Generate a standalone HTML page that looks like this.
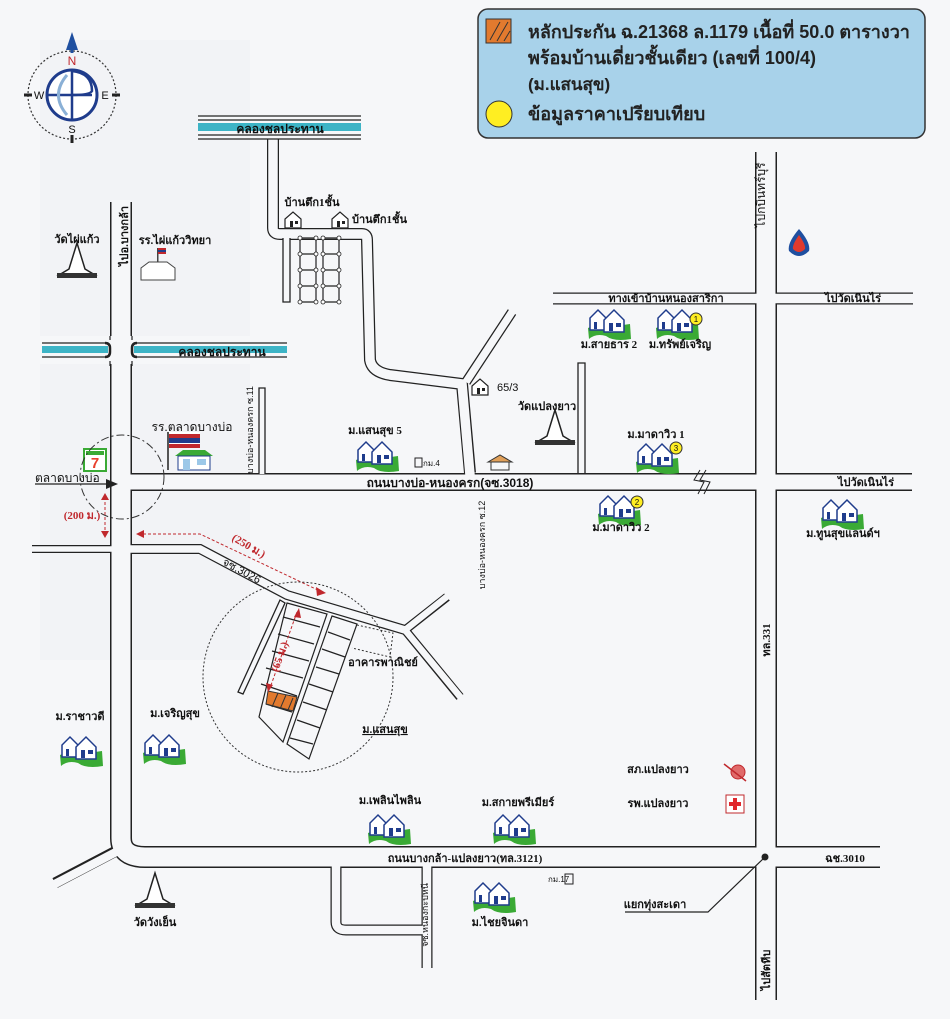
<!DOCTYPE html>
<html><head><meta charset="utf-8"><style>
html,body{margin:0;padding:0;background:#f6f7f9;}
svg{display:block;}
text{font-family:"Liberation Sans","DejaVu Sans",sans-serif;fill:#111;}
.s{font-size:11px;font-weight:bold;font-family:"Liberation Serif","DejaVu Serif",serif;}
.m{font-size:12px;}
.r{fill:#c0282d;font-size:11px;font-weight:bold;font-family:"Liberation Serif",serif;}
</style></head><body>
<svg width="950" height="1019" viewBox="0 0 950 1019" xmlns="http://www.w3.org/2000/svg">
<defs>
<g id="v">
<path d="M-22,8 Q-8,2 6,6 L20,4 L21,19 Q4,22 -4,16 Q-14,13 -21,19 Z" fill="#3aaa35"/>
<path d="M-20,10 L-20,-2 L-12,-10 L-4,-2 L-4,10 Z" fill="#fff" stroke="#1f3c8c" stroke-width="1.5"/>
<path d="M-6,12 L-6,0 L4,-10 L14,0 L14,12 Z" fill="#fff" stroke="#1f3c8c" stroke-width="1.5"/>
<rect x="-16" y="2" width="3" height="7" fill="#1f3c8c"/><rect x="-1" y="3" width="4" height="8" fill="#1f3c8c"/><rect x="6" y="3" width="5" height="4" fill="#1f3c8c"/>
</g>
<g id="stupa">
<path d="M0,-22 L-8,4 L-18,10 L18,10 L8,4 Z" fill="#fff" stroke="#222" stroke-width="1.5"/>
<rect x="-20" y="8" width="40" height="5" fill="#333"/>
</g>
<g id="h">
<path d="M-8,8 L-8,-1 L0,-8 L8,-1 L8,8 Z" fill="#fff" stroke="#222" stroke-width="1.2"/>
<rect x="-3" y="1" width="3" height="6" fill="#222"/><rect x="2" y="1" width="3" height="3" fill="#222"/>
</g>
</defs>

<!-- faint background patches -->
<rect x="40" y="40" width="210" height="620" fill="#eef0f3" opacity="0.5"/>

<!-- ROADS black layer -->
<g fill="none" stroke="#222" stroke-linejoin="miter">
<path d="M121,202 V838 Q121,857 145,857 H880" stroke-width="22"/>
<path d="M118,850 L55,883" stroke-width="11"/>
<path d="M273,139 V228 Q273,234 280,234 H362 Q367,234 367,240 L370,360 Q372,372 390,375 L462,384 L470,473" stroke-width="12"/>
<path d="M466,382 L512,312" stroke-width="10"/>
<path d="M132,482 H912" stroke-width="18"/>
<path d="M766,152 V1000" stroke-width="22"/>
<path d="M553,298.5 H913" stroke-width="12"/>
<path d="M32,549 H112" stroke-width="8"/>
<path d="M130,549 H200 L287,595 L405,630" stroke-width="10"/>
<path d="M405,630 L447,597 M405,630 L460,697" stroke-width="9"/>
<path d="M336,866 V922 Q336,930 346,930 H427" stroke-width="11"/>
<path d="M427,866 V968" stroke-width="11"/>
</g>
<g fill="none" stroke="#f6f7f9" stroke-linejoin="miter">
<path d="M121,200 V838 Q121,857 145,857 H882" stroke-width="19"/>
<path d="M116,852 L53,885" stroke-width="8.5"/>
<path d="M273,137 V228 Q273,234 280,234 H362 Q367,234 367,240 L370,360 Q372,372 390,375 L462,384 L470,475" stroke-width="9.5"/>
<path d="M466,382 L514,309" stroke-width="7.5"/>
<path d="M130,482 H914" stroke-width="15"/>
<path d="M766,150 V1002" stroke-width="19"/>
<path d="M551,298.5 H915" stroke-width="9.5"/>
<path d="M30,549 H114" stroke-width="5.5"/>
<path d="M128,549 H200 L287,595 L405,630" stroke-width="7.5"/>
<path d="M405,630 L449,595 M405,630 L462,699" stroke-width="6.5"/>
<path d="M336,864 V922 Q336,930 346,930 H427" stroke-width="8.5"/>
<path d="M427,864 V970" stroke-width="8.5"/>
</g>
<!-- dead-end small roads -->
<path d="M283,238 V302 H290 V238" fill="#f6f7f9" stroke="#222" stroke-width="1.3"/>
<path d="M259,474 V388 H265 V474" fill="#f6f7f9" stroke="#222" stroke-width="1.3"/>
<path d="M578,473 V363 H585 V473" fill="#f6f7f9" stroke="#222" stroke-width="1.3"/>
<path d="M280,600 L238,692 L243,694 L285,603 Z" fill="#f6f7f9" stroke="#222" stroke-width="1.3"/>
<!-- break symbol -->
<path d="M700,470 L694,480 L704,482 L698,494 M706,470 L700,480 L710,482 L704,494" fill="none" stroke="#222" stroke-width="1"/>

<!-- lot grid top -->
<g stroke="#222" stroke-width="1.2" fill="none">
<path d="M300,238 V302 M316,238 V302 M323,238 V302 M339,238 V302"/>
<path d="M300,238 H316 M300,254 H316 M300,270 H316 M300,286 H316 M300,302 H316 M323,238 H339 M323,254 H339 M323,270 H339 M323,286 H339 M323,302 H339"/>
</g>
<g fill="#fff" stroke="#222" stroke-width="0.8">
<circle cx="300" cy="238" r="2"/><circle cx="316" cy="238" r="2"/><circle cx="323" cy="238" r="2"/><circle cx="339" cy="238" r="2"/>
<circle cx="300" cy="254" r="2"/><circle cx="316" cy="254" r="2"/><circle cx="323" cy="254" r="2"/><circle cx="339" cy="254" r="2"/>
<circle cx="300" cy="270" r="2"/><circle cx="316" cy="270" r="2"/><circle cx="323" cy="270" r="2"/><circle cx="339" cy="270" r="2"/>
<circle cx="300" cy="286" r="2"/><circle cx="316" cy="286" r="2"/><circle cx="323" cy="286" r="2"/><circle cx="339" cy="286" r="2"/>
<circle cx="300" cy="302" r="2"/><circle cx="316" cy="302" r="2"/><circle cx="323" cy="302" r="2"/><circle cx="339" cy="302" r="2"/>
</g>

<!-- canals -->
<g>
<rect x="198" y="115" width="163" height="24" fill="#f6f7f9"/>
<path d="M198,116 H361 M198,120 H361 M198,135 H361 M198,139 H361" stroke="#222" stroke-width="1.2"/>
<rect x="198" y="123" width="163" height="8" fill="#3db4c6"/>
<text x="280" y="133" class="m" text-anchor="middle" font-weight="bold" font-size="13">คลองชลประทาน</text>
<rect x="40" y="336" width="250" height="28" fill="#f6f7f9"/>
<path d="M42,343 H108 M42,357 H108 M134,343 H287 M134,357 H287" stroke="#222" stroke-width="1.2"/>
<rect x="42" y="346" width="66" height="7" fill="#3db4c6"/>
<rect x="134" y="346" width="153" height="7" fill="#3db4c6"/>
<path d="M105,343 Q110,343 110,348 V352 Q110,357 105,357 M137,343 Q132,343 132,348 V352 Q132,357 137,357" fill="none" stroke="#222" stroke-width="2.5"/>
<path d="M110,336 V340 M132,336 V340 M110,361 V366 M132,361 V366" stroke="#222" stroke-width="1.2"/>
<text x="222" y="356" class="m" text-anchor="middle" font-weight="bold" font-size="13">คลองชลประทาน</text>
</g>

<!-- compass -->
<g transform="translate(72,95)">
<circle r="44" fill="none" stroke="#333" stroke-width="1.2" stroke-dasharray="2,2"/>
<circle r="25" fill="#fff" stroke="#1f3c8c" stroke-width="3"/>
<path d="M0,-25 V25 M-25,0 H20" stroke="#1f3c8c" stroke-width="2.5" fill="none"/>
<path d="M0,-24 Q20,-22 20,-4 Q18,0 0,0" fill="none" stroke="#1f3c8c" stroke-width="2.5"/>
<path d="M-5,-20 Q-22,0 -5,20" fill="none" stroke="#8ab0d6" stroke-width="3"/>
<path d="M0,-63 L-6,-45 L6,-45 Z" fill="#1f4fa0"/><rect x="-1.5" y="-50" width="3" height="8" fill="#1f4fa0"/>
<path d="M-48,0 H-40 M40,0 H48 M0,40 V48" stroke="#222" stroke-width="3"/>
<text x="0" y="-30" text-anchor="middle" font-size="12" style="fill:#c0282d" font-family="Liberation Serif">N</text>
<text x="-33" y="4" text-anchor="middle" font-size="11" font-family="Liberation Serif">W</text>
<text x="33" y="4" text-anchor="middle" font-size="11" font-family="Liberation Serif">E</text>
<text x="0" y="38" text-anchor="middle" font-size="11" font-family="Liberation Serif">S</text>
</g>

<!-- legend -->
<rect x="478" y="9" width="447" height="129" rx="10" fill="#a8d2ea" stroke="#333" stroke-width="1.5"/>
<rect x="486" y="19" width="25" height="24" fill="#e27a2e" stroke="#333"/>
<path d="M490,40 L500,22 M497,41 L508,22 M504,41 L510,31" stroke="#333"/>
<text x="528" y="38" font-size="18" font-weight="bold" style="fill:#222">หลักประกัน ฉ.21368 ล.1179 เนื้อที่ 50.0 ตารางวา</text>
<text x="528" y="64" font-size="18" font-weight="bold" style="fill:#222">พร้อมบ้านเดี่ยวชั้นเดียว (เลขที่ 100/4)</text>
<text x="528" y="90" font-size="17" font-weight="bold" style="fill:#222">(ม.แสนสุข)</text>
<circle cx="499" cy="114" r="13" fill="#ffee22" stroke="#333"/>
<text x="528" y="120" font-size="18" font-weight="bold" style="fill:#222">ข้อมูลราคาเปรียบเทียบ</text>

<!-- left top labels -->
<text x="77" y="243" class="s" text-anchor="middle" font-size="12">วัดไผ่แก้ว</text>
<use href="#stupa" x="77" y="265"/>
<text transform="translate(128,236) rotate(-90)" class="s" text-anchor="middle" font-size="12">ไปอ.บางกล้า</text>
<text x="175" y="244" class="s" text-anchor="middle">รร.ไผ่แก้ววิทยา</text>
<g transform="translate(158,268)"><path d="M-17,12 V0 L-9,-6 H9 L17,0 V12 Z" fill="#fff" stroke="#444"/><rect x="-1" y="-20" width="1.5" height="14" fill="#444"/><rect x="0" y="-20" width="8" height="6" fill="#c0282d"/><rect x="0" y="-18" width="8" height="2" fill="#1f3c8c"/></g>
<text x="312" y="206" class="s" text-anchor="middle">บ้านตึก1ชั้น</text>
<use href="#h" x="293" y="220"/><use href="#h" x="340" y="220"/>
<text x="352" y="223" class="s">บ้านตึก1ชั้น</text>

<!-- middle -->
<use href="#h" x="480" y="387"/>
<text x="497" y="391" font-size="11">65/3</text>
<text x="547" y="410" class="s" text-anchor="middle">วัดแปลงยาว</text>
<use href="#stupa" x="555" y="432"/>
<text x="375" y="434" class="s" text-anchor="middle">ม.แสนสุข 5</text>
<use href="#v" x="378" y="452"/>
<rect x="415" y="458" width="7" height="9" fill="none" stroke="#222"/><text x="423" y="466" font-size="8">กม.4</text>
<g transform="translate(500,463)"><path d="M-12,-1 L0,-8 L12,-1 Z" fill="#e0a05a" stroke="#333"/><rect x="-9" y="-1" width="18" height="8" fill="none" stroke="#333"/></g>
<text transform="translate(253,430) rotate(-90)" font-size="9" text-anchor="middle">บางบ่อ-หนองครก ซ.11</text>
<text x="192" y="431" class="m" text-anchor="middle">รร.ตลาดบางบ่อ</text>
<g transform="translate(195,458)"><rect x="-28" y="-26" width="2" height="38" fill="#555"/><path d="M-26,-26 H5 V-10 H-26 Z" fill="#fff"/><rect x="-26" y="-24" width="31" height="4" fill="#c0282d"/><rect x="-26" y="-20" width="31" height="5" fill="#1f3c8c"/><rect x="-26" y="-14" width="31" height="4" fill="#c0282d"/><path d="M-20,-2 L-12,-8 H10 L18,-2 Z" fill="#3aaa35"/><rect x="-17" y="-2" width="32" height="14" fill="#fff" stroke="#1f3c8c"/><rect x="-12" y="1" width="7" height="11" fill="#9cc8e8"/><rect x="2" y="1" width="9" height="6" fill="#9cc8e8"/></g>
<g transform="translate(95,460)"><rect x="-11" y="-11" width="22" height="22" fill="#fff" stroke="#3aaa35" stroke-width="2"/><rect x="-9" y="-9" width="18" height="4" fill="#3aaa35"/><text x="0" y="8" text-anchor="middle" font-size="15" font-weight="bold" style="fill:#e8402e">7</text></g>
<text x="35" y="482" font-size="12">ตลาดบางบ่อ</text>
<path d="M35,484 H108" stroke="#222" stroke-width="1.2"/><path d="M106,479 L118,484 L106,489 Z" fill="#222"/>
<circle cx="122" cy="477" r="42" fill="none" stroke="#333" stroke-dasharray="8,3,2,3"/>
<path d="M105,497 V534" stroke="#c0282d" stroke-dasharray="3,2"/><path d="M101,500 L105,493 L109,500 Z M101,531 L105,538 L109,531 Z" fill="#c0282d"/>
<text x="82" y="519" class="r" text-anchor="middle">(200 ม.)</text>
<text x="450" y="487" class="m" text-anchor="middle" font-weight="bold">ถนนบางบ่อ-หนองครก(จซ.3018)</text>
<text transform="translate(485,545) rotate(-90)" font-size="9" text-anchor="middle">บางบ่อ-หนองครก ซ.12</text>

<!-- right top -->
<text transform="translate(765,195) rotate(-90)" class="m" text-anchor="middle" font-size="13">ไปกบินทร์บุรี</text>
<g transform="translate(799,243)"><path d="M0,-14 Q-12,0 -10,8 Q0,18 10,8 Q12,0 0,-14 Z" fill="#1f4fa0"/><path d="M0,-8 Q-7,2 -6,6 Q0,12 6,6 Q7,2 0,-8 Z" fill="#e03a2e"/></g>
<text x="666" y="302" class="s" text-anchor="middle" font-size="10">ทางเข้าบ้านหนองสาริกา</text>
<text x="853" y="302" class="s" text-anchor="middle">ไปวัดเนินไร่</text>
<text x="866" y="486" class="s" text-anchor="middle">ไปวัดเนินไร่</text>
<use href="#v" x="610" y="320"/><text x="609" y="348" class="s" text-anchor="middle">ม.สายธาร 2</text>
<use href="#v" x="678" y="320"/><circle cx="696" cy="319" r="6" fill="#ffee22" stroke="#333"/><text x="696" y="322" font-size="8" text-anchor="middle">1</text>
<text x="680" y="348" class="s" text-anchor="middle">ม.ทรัพย์เจริญ</text>
<text x="656" y="438" class="s" text-anchor="middle">ม.มาดาวิว 1</text>
<use href="#v" x="658" y="454"/><circle cx="676" cy="448" r="6" fill="#ffee22" stroke="#333"/><text x="676" y="451" font-size="8" text-anchor="middle">3</text>
<use href="#v" x="620" y="506"/><circle cx="637" cy="502" r="6" fill="#ffee22" stroke="#333"/><text x="637" y="505" font-size="8" text-anchor="middle">2</text>
<text x="621" y="531" class="s" text-anchor="middle">ม.มาดาวิว 2</text>
<use href="#v" x="843" y="510"/><text x="843" y="537" class="s" text-anchor="middle">ม.ทูนสุขแลนด์ฯ</text>

<!-- lower-left cluster -->
<path d="M138,534 H200 L322,592" fill="none" stroke="#c0282d" stroke-dasharray="3,2"/>
<path d="M144,530 L136,534 L144,538 Z M316,587 L326,593 L317,596 Z" fill="#c0282d"/>
<text transform="translate(247,549) rotate(30)" class="r" text-anchor="middle">(250 ม.)</text>
<text transform="translate(240,574) rotate(28)" font-size="11" text-anchor="middle">จซ.3026</text>
<circle cx="298" cy="677" r="95" fill="none" stroke="#333" stroke-dasharray="2,2"/>
<g fill="none" stroke="#222" stroke-width="1.2">
<path d="M287,603 L327,614 L283,742 L259,717 Z"/>
<path d="M332,616 L357,624 L309,759 L287,744 Z"/>
<path d="M283,617 L320,627 M278,634 L314,644 M272,651 L309,661 M266,668 L303,678 M261,684 L297,696 M266,704 L292,712"/>
<path d="M328,632 L350,640 M322,649 L345,657 M316,667 L339,674 M309,684 L333,692 M303,702 L327,710 M297,720 L320,728 M290,738 L313,744"/>
</g>
<path d="M357,625 L393,633 L390,657 L352,648" fill="none" stroke="#333" stroke-dasharray="2,2"/>
<path d="M268,691 L297,697 L293,711 L266,704 Z" fill="#e27a2e" stroke="#333"/>
<path d="M272,707 L278,693 M280,709 L286,695 M288,710 L293,698" stroke="#333"/>
<path d="M297,612 L270,688" stroke="#c0282d" stroke-dasharray="3,2"/>
<path d="M294,617 L299,608 L301,618 Z M266,683 L268,692 L273,685 Z" fill="#c0282d"/>
<text transform="translate(283,658) rotate(-70)" class="r" text-anchor="middle">(65 ม.)</text>
<text x="383" y="666" class="s" text-anchor="middle">อาคารพาณิชย์</text>
<text x="385" y="733" class="s" text-anchor="middle" text-decoration="underline">ม.แสนสุข</text>
<text x="80" y="720" class="s" text-anchor="middle">ม.ราชาวดี</text>
<use href="#v" x="82" y="747"/>
<text x="175" y="717" class="s" text-anchor="middle">ม.เจริญสุข</text>
<use href="#v" x="165" y="745"/>
<use href="#stupa" x="155" y="895"/>
<text x="155" y="926" class="s" text-anchor="middle" font-size="12">วัดวังเย็น</text>

<!-- bottom -->
<text x="390" y="804" class="s" text-anchor="middle">ม.เพลินไพลิน</text>
<use href="#v" x="390" y="825"/>
<text x="518" y="806" class="s" text-anchor="middle">ม.สกายพรีเมียร์</text>
<use href="#v" x="515" y="825"/>
<text x="465" y="862" class="s" text-anchor="middle" font-size="12">ถนนบางกล้า-แปลงยาว(ทล.3121)</text>
<text transform="translate(428,915) rotate(-90)" font-size="9" text-anchor="middle">จซ.หนองกะปหนี</text>
<text x="548" y="882" font-size="8">กม.17</text><rect x="565" y="874" width="8" height="10" fill="none" stroke="#222"/>
<use href="#v" x="495" y="893"/>
<text x="500" y="926" class="s" text-anchor="middle">ม.ไชยจินดา</text>
<text x="658" y="773" class="s" text-anchor="middle">สภ.แปลงยาว</text>
<circle cx="738" cy="772" r="7" fill="#e06a6a" stroke="#c0282d"/><path d="M724,764 L746,781" stroke="#c0282d" stroke-width="1.5"/>
<text x="658" y="807" class="s" text-anchor="middle">รพ.แปลงยาว</text>
<rect x="726" y="795" width="18" height="18" fill="#fff" stroke="#c0282d"/><path d="M735,798 V810 M729,804 H741" stroke="#e0282d" stroke-width="4"/>
<text transform="translate(770,640) rotate(-90)" class="s" text-anchor="middle" font-size="12">ทล.331</text>
<text transform="translate(770,970) rotate(-90)" class="s" text-anchor="middle" font-size="12">ไปสัตหีบ</text>
<text x="845" y="862" class="s" text-anchor="middle">ฉช.3010</text>
<circle cx="765" cy="857" r="3.5" fill="#222"/>
<path d="M765,857 L708,912 H625" fill="none" stroke="#222" stroke-width="1.2"/>
<text x="655" y="908" class="s" text-anchor="middle">แยกทุ่งสะเดา</text>
</svg>
</body></html>
